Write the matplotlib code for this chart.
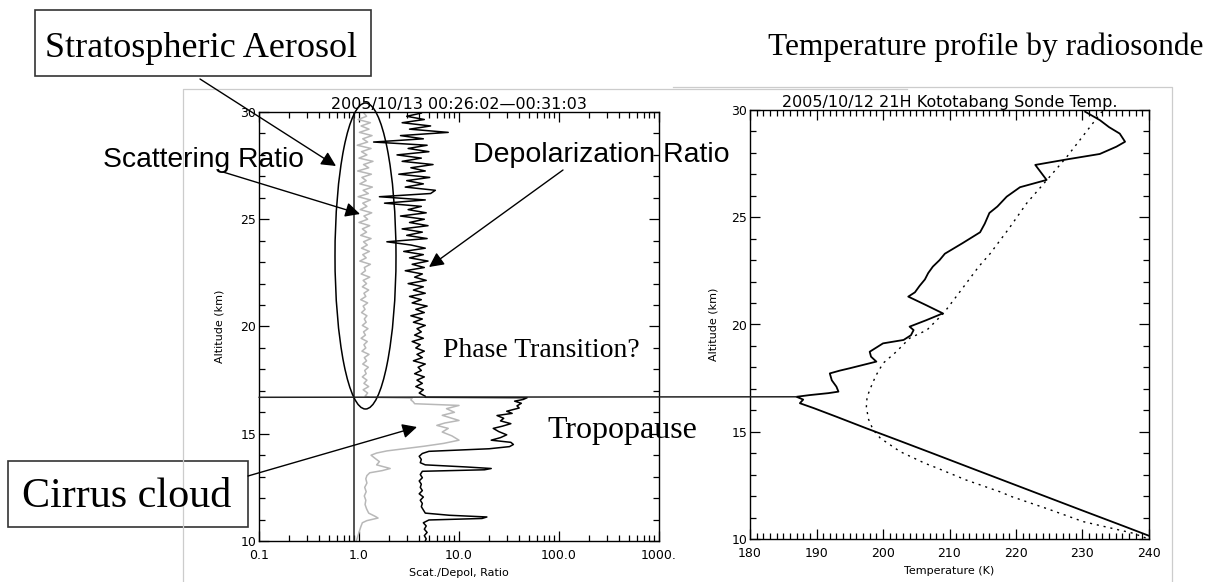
import numpy as np
import matplotlib.pyplot as plt
from matplotlib.patches import Ellipse, Rectangle, ConnectionPatch
from matplotlib.ticker import MultipleLocator, LogLocator, NullFormatter

# ---- lidar profile (left panel) ----
# stratosphere, shared altitude grid (km)
alt_strat = [16.75, 16.9, 17.05, 17.2, 17.35, 17.5, 17.65, 17.8, 17.95, 18.1,
             18.25, 18.4, 18.55, 18.7, 18.85, 19.0, 19.15, 19.3, 19.45, 19.6,
             19.75, 19.9, 20.05, 20.2, 20.35, 20.5, 20.65, 20.8, 20.95, 21.1,
             21.25, 21.4, 21.55, 21.7, 21.85, 22.0, 22.15, 22.3, 22.45, 22.6,
             22.75, 22.9, 23.05, 23.2, 23.35, 23.5, 23.65, 23.8, 23.95, 24.1,
             24.25, 24.4, 24.55, 24.7, 24.85, 25.0, 25.15, 25.3, 25.45, 25.6,
             25.75, 25.9, 26.05, 26.2, 26.35, 26.5, 26.65, 26.8, 26.95, 27.1,
             27.25, 27.4, 27.55, 27.7, 27.85, 28.0, 28.15, 28.3, 28.45, 28.6,
             28.75, 28.9, 29.05, 29.2, 29.35, 29.5, 29.65, 29.8, 29.95]
depol_strat = [4.6, 4.0, 4.4, 3.7, 4.3, 3.8, 4.5, 3.6, 4.2, 3.9,
               4.6, 3.5, 4.3, 3.8, 4.5, 3.7, 4.1, 3.4, 4.4, 3.6,
               4.2, 3.8, 4.6, 3.5, 4.3, 3.3, 4.5, 3.7, 4.8, 3.4,
               4.2, 3.2, 4.6, 3.5, 4.4, 3.1, 4.7, 3.6, 4.3, 2.9,
               4.5, 3.4, 4.9, 3.2, 4.4, 2.8, 4.6, 3.3, 1.9, 4.8,
               3.0, 4.3, 2.7, 4.9, 3.2, 4.5, 2.6, 4.7, 3.1, 4.2,
               1.8, 4.6, 1.6, 5.2, 5.8, 2.9, 4.4, 3.0, 5.1, 2.5,
               4.6, 3.3, 5.5, 2.7, 4.2, 2.4, 5.0, 3.1, 4.8, 1.4,
               4.4, 2.6, 7.8, 3.2, 5.2, 2.7, 4.5, 3.0, 4.2]
scat_strat = [1.15, 1.22, 1.10, 1.25, 1.12, 1.20, 1.08, 1.18, 1.14, 1.24,
              1.09, 1.19, 1.13, 1.26, 1.07, 1.17, 1.12, 1.21, 1.05, 1.16,
              1.11, 1.23, 1.08, 1.18, 1.13, 1.20, 1.06, 1.15, 1.10, 1.22,
              1.04, 1.17, 1.12, 1.25, 1.08, 1.19, 1.10, 1.28, 1.05, 1.16,
              1.13, 1.30, 1.02, 1.18, 1.09, 1.27, 1.06, 1.21, 1.11, 1.32,
              1.04, 1.19, 1.08, 1.28, 1.00, 1.22, 1.12, 1.34, 1.03, 1.20,
              1.09, 1.30, 0.98, 1.24, 1.10, 1.36, 1.02, 1.18, 1.07, 1.33,
              0.97, 1.25, 1.11, 1.38, 1.00, 1.20, 1.06, 1.32, 0.96, 1.22,
              1.09, 1.35, 1.01, 1.26, 1.05, 1.30, 0.98, 1.19, 1.12]

# troposphere (cirrus)
alt_trop_scat = [10.0, 10.2, 10.4, 10.65, 10.85, 10.95, 11.07, 11.15, 11.3, 11.5,
                 11.7, 11.9, 12.1, 12.3, 12.5, 12.7, 12.9, 13.05, 13.18, 13.28,
                 13.38, 13.45, 13.55, 13.7, 13.85, 14.0, 14.1, 14.2, 14.3, 14.42,
                 14.55, 14.7, 14.9, 15.08, 15.25, 15.39, 15.5, 15.62, 15.72, 15.86,
                 16.0, 16.17, 16.32, 16.4, 16.48, 16.58, 16.66, 16.7]
scat_trop = [0.94, 0.97, 1.0, 1.04, 1.08, 1.2, 1.55, 1.45, 1.25, 1.19,
             1.15, 1.17, 1.13, 1.18, 1.14, 1.2, 1.17, 1.2, 1.28, 1.7,
             2.05, 1.8, 1.5, 1.6, 1.45, 1.32, 1.5, 1.9, 2.8, 4.5,
             7.0, 10.0, 8.5, 6.8, 7.8, 6.0, 7.2, 10.0, 8.5, 6.8,
             9.0, 7.5, 10.0, 3.6, 3.5, 3.3, 3.4, 1.30]
alt_trop_depol = [10.0, 10.1, 10.25, 10.4, 10.55, 10.7, 10.85, 10.98, 11.05, 11.12,
                  11.2, 11.3, 11.45, 11.6, 11.75, 11.9, 12.05, 12.2, 12.35, 12.5,
                  12.65, 12.8, 12.95, 13.1, 13.25, 13.32, 13.38, 13.45, 13.55, 13.65,
                  13.8, 13.95, 14.08, 14.18, 14.3, 14.4, 14.5, 14.6, 14.7, 14.82,
                  14.95, 15.1, 15.25, 15.35, 15.47, 15.6, 15.72, 15.85, 15.95, 16.05,
                  16.2, 16.3, 16.42, 16.52, 16.6, 16.68, 16.7]
depol_trop = [4.6, 4.7, 4.5, 4.8, 4.5, 4.7, 4.4, 5.0, 17, 19,
              8.0, 4.6, 4.4, 4.2, 4.3, 4.1, 4.4, 4.0, 4.3, 4.1,
              4.2, 4.0, 4.3, 4.1, 4.3, 18, 21, 12, 4.6, 4.1,
              4.2, 4.0, 4.3, 5.0, 20, 32, 35, 33, 21, 26,
              30, 25, 22, 27, 33, 26, 28, 24, 34, 30,
              40, 38, 42, 36, 44, 48, 4.6]

ratio_ticks = [0.1, 1, 10, 100, 1000]
ratio_labels = ['0.1', '1.0', '10.0', '100.0', '1000.']
ref_ratio = 0.9
tropopause_alt = 16.7

# ---- radiosonde (right panel) ----
sonde_alt = [10.15, 10.6, 11.35, 12.0, 12.52, 13.3, 14.0, 14.6, 15.16, 15.7,
             16.1, 16.33, 16.5, 16.63, 16.71, 16.8, 16.87, 17.1, 17.4, 17.72,
             17.85, 17.96, 18.27, 18.5, 18.73, 19.12, 19.28, 19.5, 19.74, 19.9,
             20.2, 20.52, 20.9, 21.3, 21.5, 21.8, 22.1, 22.4, 22.7, 23.0,
             23.3, 23.8, 24.3, 24.7, 25.2, 25.5, 25.96, 26.4, 26.74, 27.44,
             27.7, 27.95, 28.29, 28.52, 28.9, 29.2, 29.53, 29.92]
sonde_temp = [240.0, 236.2, 229.8, 224.3, 219.9, 213.3, 207.4, 202.3, 197.5, 193.0,
              189.6, 187.5, 188.0, 187.0, 189.0, 191.8, 193.3, 193.0, 192.3, 192.0,
              193.5, 195.0, 199.0, 198.2, 198.0, 200.0, 203.1, 204.2, 204.6, 204.0,
              206.5, 209.0, 206.5, 203.8, 204.8, 205.5, 206.3, 206.8, 207.5, 208.5,
              209.3, 212.0, 214.6, 215.3, 216.0, 217.2, 218.6, 220.6, 224.6, 222.9,
              227.7, 232.6, 235.1, 236.4, 235.6, 234.0, 232.6, 230.4]
clim_alt = [10.05, 10.27, 10.81, 11.4, 11.97, 12.2, 12.75, 13.3, 13.53, 14.07,
            14.3, 14.7, 15.1, 15.6, 16.17, 16.6, 16.95, 17.6, 18.19, 18.73,
            19.36, 19.74, 20.52, 21.5, 22.7, 23.3, 24.5, 25.65, 26.9, 27.8,
            28.6, 29.4, 29.92]
clim_temp = [239.5, 237.6, 230.1, 224.8, 219.4, 217.6, 212.5, 208.2, 206.3, 202.6,
             201.5, 199.6, 198.5, 197.8, 197.5, 197.6, 198.0, 198.9, 200.0, 202.0,
             204.0, 206.6, 209.1, 211.5, 214.4, 216.1, 219.0, 221.6, 225.1, 227.6,
             229.6, 231.6, 232.9]

W, H = 1210, 582
fig = plt.figure(figsize=(W / 100, H / 100), dpi=100)


def px_box(x0, y0, x1, y1):
    # pixel box, origin top-left -> figure fraction rect
    return [x0 / W, 1 - y1 / H, (x1 - x0) / W, (y1 - y0) / H]


ax1 = fig.add_axes(px_box(259, 112, 659, 541))
ax2 = fig.add_axes(px_box(750, 110, 1149, 539))

ax1.plot(scat_trop + scat_strat, alt_trop_scat + alt_strat, color='#b8b8b8', lw=1.1)
ax1.plot(depol_trop + depol_strat, alt_trop_depol + alt_strat, color='black', lw=1.1)
ax1.axvline(ref_ratio, color='#222222', lw=1.1)
ax1.set_xscale('log')
ax1.set_xlim(0.1, 1000)
ax1.set_ylim(10, 30)
ax1.set_xticks(ratio_ticks)
ax1.set_xticklabels(ratio_labels)
ax1.xaxis.set_minor_locator(LogLocator(base=10, subs=np.arange(2, 10)))
ax1.xaxis.set_minor_formatter(NullFormatter())
ax1.set_title('2005/10/13 00:26:02\u201400:31:03', fontsize=11.5, pad=2)
ax1.set_xlabel('Scat./Depol, Ratio', fontsize=8, labelpad=4)

ax2.plot(sonde_temp, sonde_alt, color='black', lw=1.3)
ax2.plot(clim_temp, clim_alt, color='black', lw=1.0, linestyle=(0, (1.5, 3.5)))
ax2.set_xlim(180, 240)
ax2.set_ylim(10, 30)
ax2.xaxis.set_major_locator(MultipleLocator(10))
ax2.xaxis.set_minor_locator(MultipleLocator(1))
ax2.set_title('2005/10/12 21H Kototabang Sonde Temp.', fontsize=11.5, pad=1.5)
ax2.set_xlabel('Temperature (K)', fontsize=8, labelpad=4)

for ax, lx in ((ax1, -0.085), (ax2, -0.078)):
    ax.yaxis.set_major_locator(MultipleLocator(5))
    ax.yaxis.set_minor_locator(MultipleLocator(1))
    ax.tick_params(which='both', direction='in', top=True, right=True, width=0.9, labelsize=9)
    ax.tick_params(which='major', length=7)
    ax.tick_params(which='minor', length=4)
    ax.tick_params(axis='x', pad=6)
    ax.tick_params(axis='y', pad=2)
    for s in ax.spines.values():
        s.set_linewidth(1.0)
    ax.set_ylabel('Altitude (km)', fontsize=8)
    ax.yaxis.set_label_coords(lx, 0.5)

# tropopause line from lidar panel to the sonde cold point
cold = int(np.argmin(sonde_temp))
con = ConnectionPatch(xyA=(0.1, tropopause_alt), coordsA=ax1.transData,
                      xyB=(sonde_temp[cold], sonde_alt[cold]), coordsB=ax2.transData,
                      color='#222222', lw=1.1)
fig.add_artist(con)

# ---- annotation layer in pixel coordinates ----
ov = fig.add_axes([0, 0, 1, 1])
ov.set_xlim(0, W)
ov.set_ylim(H, 0)
ov.set_axis_off()
ov.patch.set_visible(False)

serif = ['Liberation Serif', 'DejaVu Serif']
sans = ['Liberation Sans', 'DejaVu Sans']

# screenshot borders
ov.plot([183, 183, 907], [H, 89, 89], color='#cccccc', lw=0.9)
ov.plot([673, 1172, 1172], [87, 87, H], color='#cccccc', lw=0.9)

ov.add_patch(Rectangle((35, 10), 336, 66, fill=False, ec='#333333', lw=1.2))
ov.text(45, 57, 'Stratospheric Aerosol', family=serif, fontsize=26, va='baseline')
ov.add_patch(Rectangle((8, 461), 240, 66, fill=False, ec='#333333', lw=1.2))
ov.text(22, 507, 'Cirrus cloud', family=serif, fontsize=30.3, va='baseline')

ov.text(103, 167, 'Scattering Ratio', family=sans, fontsize=20.3, va='baseline')
ov.text(473, 162, 'Depolarization Ratio', family=sans, fontsize=20.5, va='baseline')
ov.text(443, 357, 'Phase Transition?', family=serif, fontsize=20, va='baseline')
ov.text(547, 438, 'Tropopause', family=serif, fontsize=23, va='baseline')
ov.text(768, 55, 'Temperature profile by radiosonde', family=serif, fontsize=22.6, va='baseline')

ov.add_patch(Ellipse((365.5, 256), 61, 306, fill=False, ec='black', lw=1.1))

arrow = dict(arrowstyle='-|>', color='black', lw=1.0, mutation_scale=22, shrinkA=0, shrinkB=0)
for tail, head in [((200, 79), (336, 166)),
                   ((223, 172), (360, 214)),
                   ((563, 170), (429, 267)),
                   ((248, 476), (417, 427))]:
    ov.annotate('', xy=head, xytext=tail, xycoords='data', arrowprops=arrow)

fig.savefig('out.png', dpi=100)
